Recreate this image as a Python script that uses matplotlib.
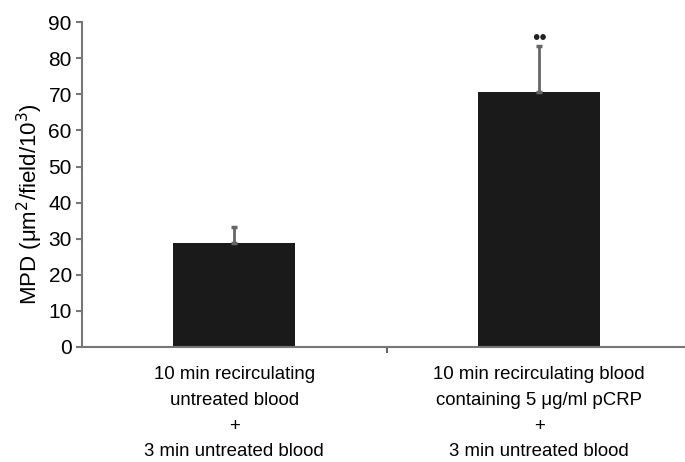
import matplotlib.pyplot as plt
import numpy as np

plt.rcParams['font.family'] = ['Liberation Sans', 'DejaVu Sans']

categories = ['10 min recirculating\nuntreated blood\n+\n3 min untreated blood',
              '10 min recirculating blood\ncontaining 5 \u03bcg/ml pCRP\n+\n3 min untreated blood']
mpd = [28.8, 70.6]
sem = [4.4, 12.7]
marks = ['', '\u2022\u2022']

fig = plt.figure(figsize=(6.85, 4.62), dpi=100)
ax = fig.add_axes([0.119, 0.249, 0.891, 0.703])

x = np.arange(len(categories))
ax.bar(x, mpd, width=0.4, color='#1a1a1a', zorder=2)
ax.errorbar(x, mpd, yerr=[np.zeros(len(sem)), sem], fmt='none',
            ecolor='#666666', elinewidth=2, capsize=2.5, capthick=2.5, zorder=3)
for xi, m, s, lab in zip(x, mpd, sem, marks):
    if lab:
        ax.text(xi, m + s - 0.4, lab, ha='center', va='bottom', fontsize=15,
                color='#222222')

ax.set_xlim(-0.5, 1.5)
ax.set_ylim(0, 90)
ax.set_yticks(np.arange(0, 91, 10))
ax.set_xticks(x)
ax.set_xticklabels(categories, fontsize=13.4, linespacing=1.66)
ax.set_xticks([0.5], minor=True)
ax.tick_params(axis='x', which='major', length=0, pad=14)
ax.tick_params(axis='x', which='minor', length=4, width=1.5, color='#666666')
ax.tick_params(axis='y', length=4, width=1.5, color='#777777', labelsize=15, pad=3)

ax.set_ylabel('MPD (\u03bcm$^2$/field/10$^3$)', fontsize=16)
ax.yaxis.set_label_coords(-0.06, 0.44)

for side in ['top', 'right']:
    ax.spines[side].set_visible(False)
for side in ['left', 'bottom']:
    ax.spines[side].set_color('#777777')
    ax.spines[side].set_linewidth(1.5)

fig.savefig('out.png', dpi=100)
